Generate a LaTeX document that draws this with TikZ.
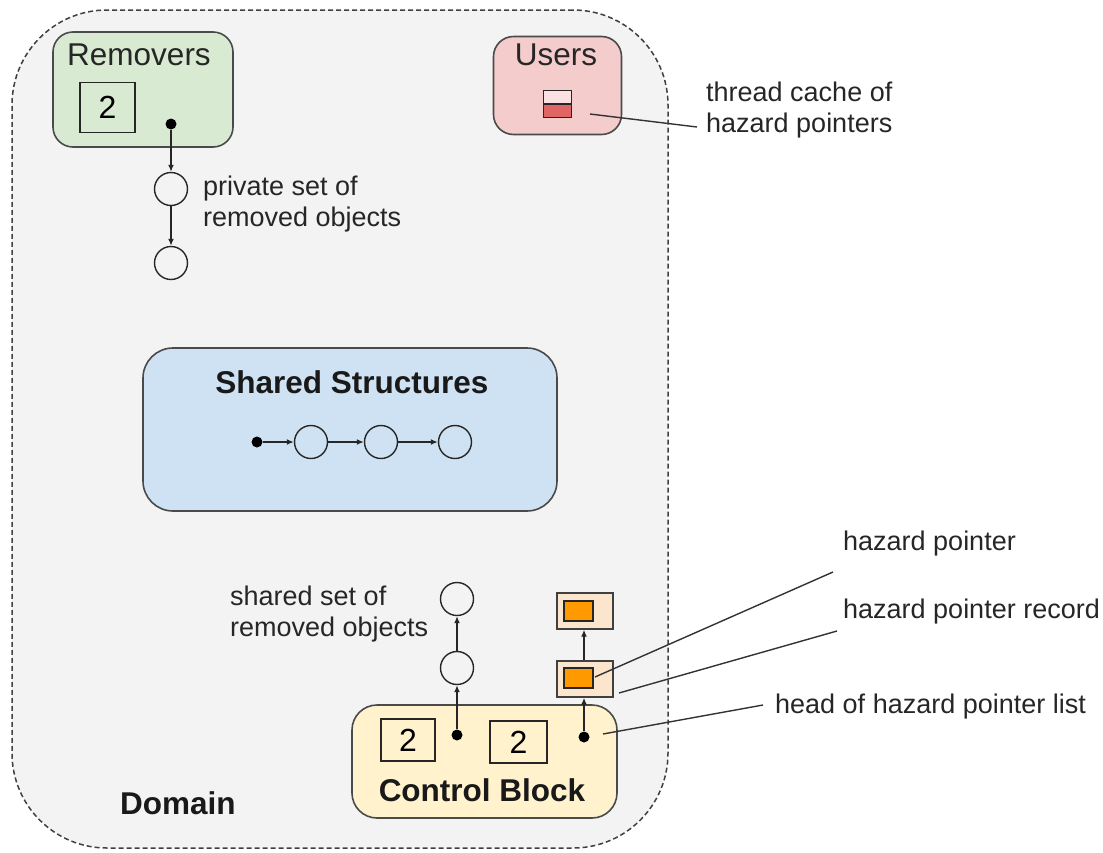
\documentclass[tikz,border=0pt]{standalone}
\usepackage{fontspec}
\setmainfont{Liberation Sans}
\usetikzlibrary{arrows.meta}
\definecolor{domfill}{HTML}{F3F3F3}
\definecolor{remfill}{HTML}{D9EAD3}
\definecolor{usrfill}{HTML}{F4CCCC}
\definecolor{shfill}{HTML}{CFE2F3}
\definecolor{cbfill}{HTML}{FFF2CC}
\definecolor{hprfill}{HTML}{FCE5CD}
\definecolor{hpfill}{HTML}{FF9900}
\definecolor{cachetop}{HTML}{FBE1E1}
\definecolor{cachebot}{HTML}{E06666}
\definecolor{edge}{HTML}{4A4A4A}
\tikzset{
  txt/.style={font=\fontsize{27}{31}\selectfont, text=black!85, inner sep=0pt, align=left},
  ttl/.style={font=\fontsize{31.5}{35}\selectfont, text=black!85, inner sep=0pt},
  btxt/.style={font=\fontsize{31.5}{35}\selectfont\bfseries, text=black!90, inner sep=0pt},
  group/.style={draw=edge, line width=1.6pt, rounded corners=#1, inner sep=0pt},
  numbox/.style={draw=black!85, line width=1.4pt, minimum width=55pt, minimum height=50pt, inner sep=0pt, font=\fontsize{32}{36}\selectfont},
  obj/.style={circle, draw=black!85, line width=1.4pt, minimum size=33pt, inner sep=0pt},
  ptr/.style={circle, fill=black, minimum size=11pt, inner sep=0pt},
  link/.style={line width=1.4pt, black!85, -{Latex[length=7pt,width=6pt]}},
  callout/.style={line width=1.4pt, black!80},
  recbox/.style={draw=black!75, line width=1.4pt, fill=hprfill, minimum width=56pt, minimum height=36pt, inner sep=0pt},
  hpbox/.style={draw=black!85, line width=1.4pt, fill=hpfill, minimum width=29pt, minimum height=20pt, inner sep=0pt}
}
\begin{document}
\begin{tikzpicture}[x=1pt,y=-1pt]
\useasboundingbox (0,0) rectangle (1103,852);
% Domain
\node[group=95pt, draw=black!75, dashed, dash pattern=on 5pt off 3pt, line width=1.5pt, fill=domfill, minimum width=656pt, minimum height=838pt] (domain) at (340,429) {};
\node[btxt, anchor=west] (domlbl) at (120,803) {Domain};

% Removers
\node[group=20pt, fill=remfill, minimum width=180pt, minimum height=115pt] (rem) at (143,89.5) {};
\node[ttl] (remlbl) at (139,55) {Removers};
\node[numbox] (remnum) at (107.5,107.5) {2};
\node[ptr] (remptr) at (171,124) {};
\node[obj] (p1) at (171,189) {};
\node[obj] (p2) at (171,263) {};
\draw[link] (remptr) -- (p1);
\draw[link] (p1) -- (p2);
\node[txt, anchor=west] (privlbl) at (203,204) {private set of\\removed objects};

% Users
\node[group=20pt, fill=usrfill, minimum width=128pt, minimum height=98pt] (usr) at (557.5,85.5) {};
\node[ttl] (usrlbl) at (556,55) {Users};
\node[draw=black!85, line width=1.4pt, minimum width=27pt, minimum height=26pt, inner sep=0pt] (cache) at (557.5,104) {};
\fill[cachetop] (cache.north west) rectangle (cache.east);
\fill[cachebot] (cache.west) rectangle (cache.south east);
\draw[black!85, line width=1.4pt] (cache.north west) rectangle (cache.south east);
\draw[black!85, line width=1.4pt] (cache.west) -- (cache.east);
\node[txt, anchor=west] (cachelbl) at (706,110) {thread cache of\\hazard pointers};
\coordinate (cacheA) at (590,114);
\coordinate (cacheB) at (697,127);
\draw[callout] (cacheA) -- (cacheB);

% Shared structures
\node[group=30pt, fill=shfill, minimum width=414pt, minimum height=163pt] (shared) at (350,429.5) {};
\node[btxt] (sharedlbl) at (352,382) {Shared Structures};
\node[ptr] (sptr) at (257,442) {};
\node[obj] (s1) at (311,442) {};
\node[obj] (s2) at (381,442) {};
\node[obj] (s3) at (455,442) {};
\draw[link] (sptr) -- (s1);
\draw[link] (s1) -- (s2);
\draw[link] (s2) -- (s3);

% Control block
\node[group=25pt, fill=cbfill, minimum width=265pt, minimum height=113pt] (cb) at (484.5,761.5) {};
\node[btxt] (cblbl) at (482,790) {Control Block};
\node[numbox, minimum width=54pt, minimum height=42pt] (cbnum1) at (408,740) {2};
\node[numbox, minimum width=57pt, minimum height=42pt] (cbnum2) at (518.5,742) {2};
\node[ptr] (cbptr1) at (457,735) {};
\node[ptr] (cbptr2) at (584,737) {};
\node[obj] (r1) at (457,668) {};
\node[obj] (r2) at (457,599) {};
\draw[link] (cbptr1) -- (r1);
\draw[link] (r1) -- (r2);
\node[txt, anchor=west] (sharedsetlbl) at (230,614) {shared set of\\removed objects};

% hazard pointer records
\node[recbox] (rec1) at (585,679) {};
\node[hpbox] (hp1) at (578.5,678) {};
\node[recbox] (rec2) at (585,611) {};
\node[hpbox] (hp2) at (578.5,611) {};
\draw[link] (cbptr2) -- (cbptr2 |- rec1.south);
\draw[link] (cbptr2 |- rec1.north) -- (cbptr2 |- rec2.south);

% callouts
\node[txt, anchor=west] (hplbl) at (843,544) {hazard pointer};
\node[txt, anchor=west] (reclbl) at (843,612) {hazard pointer record};
\node[txt, anchor=west] (headlbl) at (775,707) {head of hazard pointer list};
\coordinate (hpA) at (595,677);
\coordinate (hpB) at (833,572);
\coordinate (recA) at (619,693);
\coordinate (recB) at (837,631);
\coordinate (headA) at (603,734);
\coordinate (headB) at (763,705);
\draw[callout] (hpA) -- (hpB);
\draw[callout] (recA) -- (recB);
\draw[callout] (headA) -- (headB);
\end{tikzpicture}
\end{document}
